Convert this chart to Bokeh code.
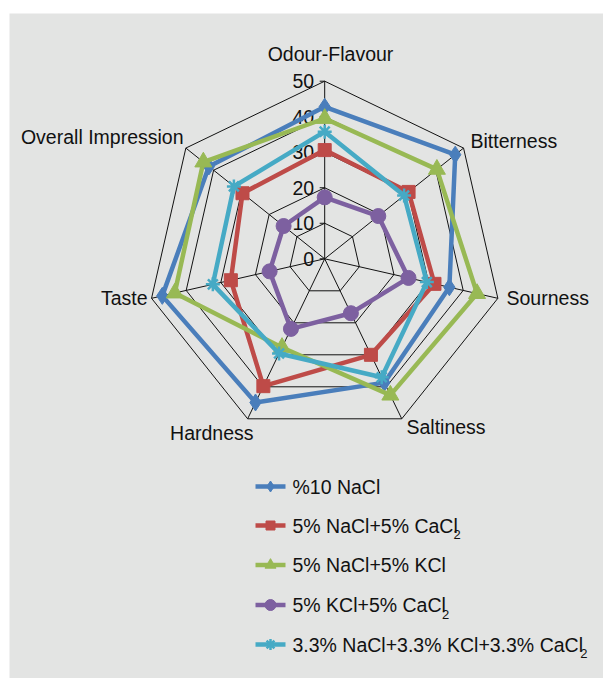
import numpy as np
from bokeh.plotting import figure
from bokeh.models import Range1d
from bokeh.core.properties import value
from bokeh.embed import file_html
from bokeh.resources import INLINE

categories = ["Odour-Flavour", "Bitterness", "Sourness", "Saltiness", "Hardness", "Taste", "Overall Impression"]
ticks = [0, 10, 20, 30, 40, 50]
series_names = ["%10 NaCl", "5% NaCl+5% CaCl", "5% NaCl+5% KCl", "5% KCl+5% CaCl", "3.3% NaCl+3.3% KCl+3.3% CaCl"]
subscripts = ["", "2", "", "2", "2"]
nacl10 = [42.8, 47.0, 36.0, 38.7, 44.9, 46.9, 41.7]
nacl_cacl2 = [30.6, 30.2, 31.7, 30.0, 39.8, 27.1, 29.6]
nacl_kcl = [39.5, 40.4, 44.0, 42.6, 27.7, 43.3, 43.7]
kcl_cacl2 = [17.3, 19.3, 24.2, 17.0, 21.9, 15.9, 14.8]
mix3 = [35.8, 28.6, 29.5, 37.0, 29.6, 32.3, 32.7]

series = [nacl10, nacl_cacl2, nacl_kcl, kcl_cacl2, mix3]
colors = ["#4A7EBB", "#BE4B48", "#98B954", "#7D60A0", "#46AAC5"]
markers = ["diamond", "square", "triangle", "circle", "asterisk"]
msizes = [17, 13, 17, 15, 14]
lsizes = [11, 9, 11, 11, 11]

FONT = "Liberation Sans"
FS = "19.5px"

W, H = 603, 678
FL, FT = 9, 13  # frame top-left in page px
FW, FH = W - FL, H - FT

CX, CY, R = 324.2, 258.3, 177.6
RMAX = 50.0


def px(x):
    return x - FL


def py(y):
    return -(y - FT)


p = figure(width=W, height=H, output_backend="svg", toolbar_location=None,
           x_range=Range1d(0, FW), y_range=Range1d(-FH, 0),
           min_border_left=FL, min_border_top=FT, min_border_right=0, min_border_bottom=0)
p.axis.visible = False
p.grid.visible = False
p.outline_line_color = None
p.background_fill_color = "#E3E4E3"
p.border_fill_color = "white"

n = len(categories)
ang = np.pi / 2 - np.arange(n) * 2 * np.pi / n


def pt(vals):
    v = np.asarray(vals, dtype=float) / RMAX * R
    xs = CX + v * np.cos(ang)
    ys = CY - v * np.sin(ang)
    return px(xs), py(ys)


# grid polygons
for t in ticks[1:]:
    xs, ys = pt([t] * n)
    p.line(list(xs) + [xs[0]], list(ys) + [ys[0]], line_color="#111111", line_width=1)
# spokes
xo, yo = pt([RMAX] * n)
for k in range(n):
    p.line([px(CX), xo[k]], [py(CY), yo[k]], line_color="#111111", line_width=1)

# tick marks + labels
for t in ticks:
    yy = py(CY - t / RMAX * R)
    p.segment(px(CX - 5), yy, px(CX), yy, line_color="#111111", line_width=1)
    p.text([px(CX - 10.5)], [yy], text=[str(t)], text_align="right", text_baseline="middle",
           text_font=value(FONT), text_font_size=FS, text_color="#111111")

# series
for vals, c, m, s in zip(series, colors, markers, msizes):
    xs, ys = pt(vals)
    p.line(list(xs) + [xs[0]], list(ys) + [ys[0]], line_color=c, line_width=4.5, line_join="round")
    if m == "asterisk":
        p.scatter(xs, ys, marker=m, size=s, line_color=c, line_width=2.5)
    else:
        p.scatter(xs, ys, marker=m, size=s, fill_color=c, line_color=c)

# category labels
lab_pos = [(330, 53, "center"), (470, 140, "left"), (506, 297, "left"), (406, 426, "left"),
           (253, 432, "right"), (147, 297, "right"), (183, 136, "right")]
for name, (lx, ly, al) in zip(categories, lab_pos):
    p.text([px(lx)], [py(ly)], text=[name], text_align=al, text_baseline="middle",
           text_font=value(FONT), text_font_size=FS, text_color="#111111")

# legend
row_y = [486, 525, 564.5, 604.5, 644]
sub_x = [0, 456.7, 0, 445, 583.3]
for i, (nm, c, m, ls) in enumerate(zip(series_names, colors, markers, lsizes)):
    y = py(row_y[i])
    p.line([px(255), px(285)], [y, y], line_color=c, line_width=4.5)
    if m == "asterisk":
        p.scatter([px(270)], [y], marker=m, size=ls, line_color=c, line_width=2.5)
    else:
        p.scatter([px(270)], [y], marker=m, size=ls, fill_color=c, line_color=c)
    p.text([px(292)], [y], text=[nm], text_align="left", text_baseline="middle",
           text_font=value(FONT), text_font_size=FS, text_color="#111111")
    if subscripts[i]:
        p.text([px(sub_x[i])], [y - 9], text=[subscripts[i]], text_align="center", text_baseline="middle",
               text_font=value(FONT), text_font_size="13px", text_color="#111111")

open("out.html", "w").write(file_html(p, INLINE))
